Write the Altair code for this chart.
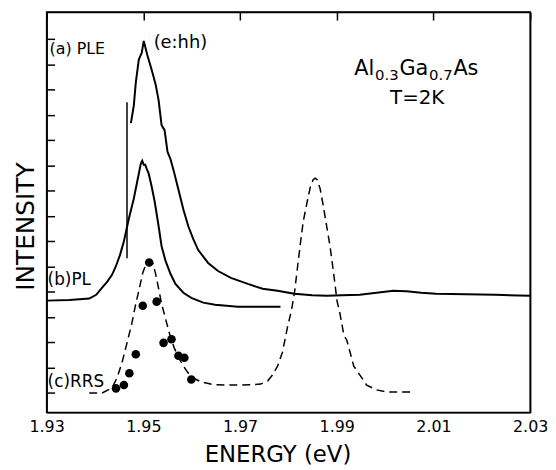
import altair as alt
import pandas as pd

FONT = "DejaVu Sans"

# ---- data (energy in eV, intensity in arbitrary tick units) ----
ple_e = [1.94742, 1.94773, 1.94803, 1.94844, 1.94906, 1.94967, 1.95008, 1.95039, 1.9508,
         1.95172, 1.95254, 1.95316, 1.95377, 1.95439, 1.955, 1.95561, 1.95623, 1.95725,
         1.95828, 1.9593, 1.96033, 1.96135, 1.9634, 1.96545, 1.96811, 1.9716, 1.97467,
         1.97775, 1.98123, 1.98492, 1.98799, 1.99107, 1.99475, 1.99824, 2.00172, 2.00439,
         2.00746, 2.01053, 2.01668, 2.02283, 2.03]
ple_i = [10.67, 11.02, 11.37, 12.27, 13.18, 13.45, 13.92, 13.69, 13.37,
         12.78, 12.20, 11.57, 10.59, 10.39, 9.53, 9.25, 8.82, 8.04,
         7.25, 6.59, 6.08, 5.65, 5.14, 4.82, 4.55, 4.31, 4.12,
         4.04, 3.92, 3.86, 3.84, 3.86, 3.88, 3.96, 4.04, 4.02,
         3.96, 3.92, 3.90, 3.88, 3.84]

pl_e = [1.93, 1.93471, 1.93881, 1.94025, 1.94148, 1.9425, 1.94352, 1.94434, 1.94516,
        1.94598, 1.94701, 1.94803, 1.94885, 1.94947, 1.94977, 1.95008, 1.95039, 1.9507,
        1.95111, 1.95172, 1.95234, 1.95316, 1.95377, 1.95459, 1.95561, 1.95664, 1.95828,
        1.95992, 1.96238, 1.96484, 1.96955, 1.97365, 1.97836]
pl_i = [3.65, 3.67, 3.73, 3.88, 4.16, 4.39, 4.67, 5.02, 5.45,
        6.00, 6.90, 7.69, 8.47, 9.06, 9.18, 9.02, 9.02, 8.86,
        8.67, 8.16, 7.57, 6.59, 5.80, 5.22, 4.71, 4.31, 3.96,
        3.76, 3.57, 3.49, 3.41, 3.41, 3.41]

laser_e = [1.94662, 1.94662]
laser_i = [11.49, 5.33]

rrs_e = [1.93881, 1.94148, 1.94352, 1.94455, 1.94557, 1.9466, 1.94762, 1.94844, 1.94906,
         1.94988, 1.95049, 1.95131, 1.95193, 1.95254, 1.95316, 1.95377, 1.9548, 1.95561,
         1.95643, 1.95725, 1.95828, 1.9593, 1.96074, 1.96197, 1.96443, 1.96689, 1.96955,
         1.97262, 1.97426, 1.9757, 1.97672, 1.97775, 1.97877, 1.9798, 1.98061, 1.98123,
         1.98184, 1.98246, 1.98307, 1.98389, 1.98451, 1.98512, 1.98553, 1.98594, 1.98656,
         1.98717, 1.98799, 1.98861, 1.98902, 1.98963, 1.99004, 1.99066, 1.99148, 1.99209,
         1.99352, 1.99619, 1.99824, 2.00029, 2.00602]
rrs_i = [0.00, 0.00, 0.20, 0.59, 1.18, 1.96, 2.75, 3.53, 4.04,
         4.75, 5.06, 5.22, 5.14, 4.71, 4.12, 3.53, 2.78, 2.20,
         1.76, 1.41, 1.06, 0.78, 0.55, 0.43, 0.33, 0.31, 0.31,
         0.33, 0.35, 0.47, 0.71, 1.06, 1.61, 2.59, 3.25, 3.92,
         4.90, 5.88, 6.78, 7.57, 8.12, 8.43, 8.49, 8.43, 8.08,
         7.45, 6.51, 5.80, 5.22, 4.31, 3.65, 3.14, 2.28, 2.08,
         1.06, 0.31, 0.12, 0.04, 0.04]

dots_e = [1.94434, 1.94598, 1.94711, 1.94844, 1.94988, 1.95121, 1.95275, 1.95418,
          1.95582, 1.95725, 1.95848, 1.95992]
dots_i = [0.18, 0.31, 0.78, 1.53, 3.45, 5.16, 3.61, 1.98, 2.12, 1.47, 1.39, 0.53]

x_domain = [1.93, 2.03]
y_domain = [-0.77, 15.06]
x_ticks = [1.93, 1.95, 1.97, 1.99, 2.01, 2.03]
y_ticks = list(range(15))

labels_text = ["(a) PLE", "(e:hh)", "(b)PL", "(c)RRS"]
labels_e = [1.93061, 1.95213, 1.9302, 1.9302]
labels_i = [13.61, 13.84, 4.47, 0.43]
labels_size = [16, 18, 17, 17]

formula_parts = ["Al", "0.3", "Ga", "0.7", "As"]
formula_sub = [False, True, False, True, False]
formula_dx = [0, 21, 45.5, 75.5, 100]
formula_e = 1.99363
formula_i = 12.59

temp_text = "T=2K"
temp_e = 2.00664
temp_i = 11.68

# ---- scales / axes ----
xs = alt.Scale(domain=x_domain, nice=False, zero=False)
ys = alt.Scale(domain=y_domain, nice=False, zero=False)

# inward ticks are drawn as short dashes of the grid lines, starting at the axis
x_axis = alt.Axis(orient="bottom", values=x_ticks, format=".2f", title="ENERGY (eV)",
                  domain=True, domainColor="black", domainWidth=1.5,
                  ticks=False, tickSize=0,
                  grid=True, gridColor="black", gridWidth=1.5, gridOpacity=1,
                  gridDash=[8, 2000],
                  labelFontSize=16, labelFont=FONT, labelColor="black", labelPadding=6,
                  labelFlush=False,
                  titleFontSize=23, titleFont=FONT, titleFontWeight="normal",
                  titleColor="black", titlePadding=10, titleX=233)
y_axis = alt.Axis(orient="left", values=y_ticks, labels=False, title="INTENSITY",
                  domain=True, domainColor="black", domainWidth=1.5,
                  ticks=False, tickSize=0,
                  grid=True, gridColor="black", gridWidth=1.5, gridOpacity=1,
                  gridDash=[8, 2000],
                  titleFontSize=25, titleFont=FONT, titleFontWeight="normal",
                  titleColor="black", titlePadding=8, titleY=216)
top_axis = alt.Axis(orient="top", domain=True, domainColor="black", domainWidth=1.5,
                    ticks=False, labels=False, grid=False, title="")
right_axis = alt.Axis(orient="right", domain=True, domainColor="black", domainWidth=1.5,
                      ticks=False, labels=False, grid=False, title="")

def line_df(e, i):
    return pd.DataFrame({"E": e, "I": i, "o": list(range(len(e)))})

X = alt.X("E:Q", scale=xs, axis=x_axis)
Y = alt.Y("I:Q", scale=ys, axis=y_axis)

ple = alt.Chart(line_df(ple_e, ple_i)).mark_line(color="black", strokeWidth=2).encode(
    x=X, y=Y, order="o:Q")
pl = alt.Chart(line_df(pl_e, pl_i)).mark_line(color="black", strokeWidth=2).encode(
    x=X, y=Y, order="o:Q")
laser = alt.Chart(line_df(laser_e, laser_i)).mark_line(color="black", strokeWidth=1.5).encode(
    x=X, y=Y, order="o:Q")
rrs = alt.Chart(line_df(rrs_e, rrs_i)).mark_line(
    color="black", strokeWidth=1.5, strokeDash=[8, 5]).encode(x=X, y=Y, order="o:Q")

lab_df = pd.DataFrame({"E": labels_e, "I": labels_i, "t": labels_text, "s": labels_size})
labels = alt.Chart(lab_df).mark_text(align="left", baseline="middle", font=FONT,
                                     color="black").encode(
    x=X, y=Y, text="t:N", size=alt.Size("s:Q", scale=None, legend=None))

formula_layers = []
for part, sub, dx in zip(formula_parts, formula_sub, formula_dx):
    formula_layers.append(
        alt.Chart(pd.DataFrame({"E": [formula_e], "I": [formula_i], "t": [part]}))
        .mark_text(align="left", baseline="alphabetic", font=FONT, color="black",
                   fontSize=15 if sub else 21, dx=dx, dy=5 if sub else 0)
        .encode(x=X, y=Y, text="t:N"))

temp = alt.Chart(pd.DataFrame({"E": [temp_e], "I": [temp_i], "t": [temp_text]})).mark_text(
    align="center", baseline="middle", font=FONT, color="black", fontSize=20).encode(
    x=X, y=Y, text="t:N")

main = alt.layer(ple, pl, laser, rrs, labels, *formula_layers, temp)

# RRS points; this layer carries the top and right frame sides
dots = alt.Chart(pd.DataFrame({"E": dots_e, "I": dots_i})).mark_circle(
    color="black", opacity=1, size=75).encode(
    x=alt.X("E:Q", scale=xs, axis=top_axis),
    y=alt.Y("I:Q", scale=ys, axis=right_axis))

chart = alt.layer(main, dots).resolve_axis(x="independent", y="independent").properties(
    width=488, height=404,
    background="white",
    autosize=alt.AutoSizeParams(type="none"),
    padding={"left": 39, "top": 2, "right": 18, "bottom": 54},
).configure_view(stroke="black", strokeWidth=1.5)

chart.save("out.html", embed_options={"renderer": "svg", "actions": False})
